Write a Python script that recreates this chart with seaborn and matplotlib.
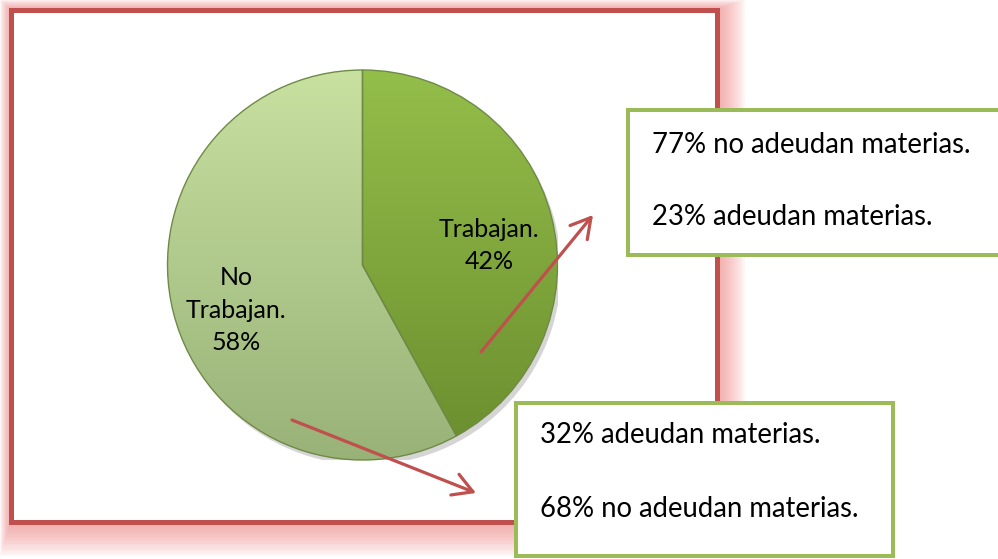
import numpy as np
import matplotlib
matplotlib.use("Agg")
import matplotlib.pyplot as plt
import matplotlib.transforms as mtransforms
import seaborn as sns
from matplotlib.colors import LinearSegmentedColormap
from matplotlib.patches import Rectangle, Circle

# ---- data ----
categories = ["Trabajan.", "No\nTrabajan."]
values = [42, 58]
box_top_lines = ["77% no adeudan materias.", "23% adeudan materias."]
box_bottom_lines = ["32% adeudan materias.", "68% no adeudan materias."]

sns.set_theme(style="white")
plt.rcParams['font.family'] = ['Lato', 'DejaVu Sans']

W, H = 998, 559
fig = plt.figure(figsize=(W / 100, H / 100), dpi=100)
fig.patch.set_facecolor("white")

# background axes in pixel coordinates
bg = fig.add_axes([0, 0, 1, 1], zorder=0)
bg.set_xlim(0, W)
bg.set_ylim(H, 0)
bg.axis("off")

RED = "#C0504D"
GREEN_EDGE = "#9BBB59"

fx0, fy0, fx1, fy1 = 11, 9.5, 717, 522
# glow
n = 14
for i in range(n):
    t = (i + 1) / n
    ml, mt, mr, mb = 11 * t, 10 * t, 28 * t, 34 * t
    bg.add_patch(Rectangle((fx0 - ml, fy0 - mt), (fx1 - fx0) + ml + mr, (fy1 - fy0) + mt + mb,
                           facecolor="#F08A8A", edgecolor="none", alpha=0.07, zorder=1))
bg.add_patch(Rectangle((fx0, fy0), fx1 - fx0, fy1 - fy0, facecolor="white", edgecolor="none", zorder=2))
bg.add_patch(Rectangle((fx0, fy0), fx1 - fx0, fy1 - fy0, facecolor="none", edgecolor=RED,
                       linewidth=5 * 0.72, zorder=3))

# pie axes
cx, cy, r = 362.5, 265, 195
pax = fig.add_axes([(cx - r) / W, (H - cy - r) / H, 2 * r / W, 2 * r / H], zorder=1)
pax.patch.set_alpha(0)

labels = [f"{c}\n{v}%" for c, v in zip(categories, values)]
wedges, texts = pax.pie(values, labels=labels, startangle=90, counterclock=False,
                        labeldistance=0.67, radius=1,
                        colors=["none", "none"],
                        wedgeprops=dict(linewidth=1.0, edgecolor="#6f8a45", zorder=2),
                        textprops=dict(ha="center", va="center", fontsize=18,
                                       color="black", linespacing=1.5, zorder=4))
for t in texts:
    t.set_transform(mtransforms.offset_copy(t.get_transform(), fig=fig, x=0, y=-13, units="dots"))

# shadow
pax.add_patch(Circle((0.018, -0.025), 1.0, facecolor="#5a5a5a", alpha=0.25, zorder=0.5,
                     edgecolor="none"))

grads = [("#94BE4A", "#6A8D2E"), ("#C8E0A0", "#98B278")]
grad = np.linspace(0, 1, 256).reshape(-1, 1)
for w, (ctop, cbot) in zip(wedges, grads):
    cmap = LinearSegmentedColormap.from_list("g", [cbot, ctop])
    im = pax.imshow(grad, extent=(-1, 1, -1, 1), origin="lower", cmap=cmap,
                    aspect="auto", zorder=1, interpolation="bilinear")
    im.set_clip_path(w)
pax.set_xlim(-1, 1)
pax.set_ylim(-1, 1)
pax.set_aspect("auto")
pax.axis("off")

# overlay axes
ov = fig.add_axes([0, 0, 1, 1], zorder=2)
ov.set_xlim(0, W)
ov.set_ylim(H, 0)
ov.axis("off")
ov.patch.set_alpha(0)

ov.add_patch(Rectangle((628, 110), 380, 145, facecolor="white", edgecolor=GREEN_EDGE,
                       linewidth=4 * 0.72, zorder=2))
ov.add_patch(Rectangle((516, 403), 377, 153, facecolor="white", edgecolor=GREEN_EDGE,
                       linewidth=4 * 0.72, zorder=2))

fs = 19.8
for txt, y in zip(box_top_lines, [153, 225]):
    ov.text(652, y, txt, ha="left", va="baseline", fontsize=fs, color="black", zorder=3)
for txt, y in zip(box_bottom_lines, [443, 517]):
    ov.text(540, y, txt, ha="left", va="baseline", fontsize=fs, color="black", zorder=3)

arrow_kw = dict(arrowstyle="->,head_length=0.7,head_width=0.4", color=RED, lw=2.3,
                shrinkA=0, shrinkB=0, mutation_scale=20)
ov.annotate("", xy=(593, 215), xytext=(481, 352), arrowprops=arrow_kw, zorder=4)
ov.annotate("", xy=(476, 493), xytext=(292, 420), arrowprops=arrow_kw, zorder=4)

fig.savefig("out.png", dpi=100, facecolor="white")
